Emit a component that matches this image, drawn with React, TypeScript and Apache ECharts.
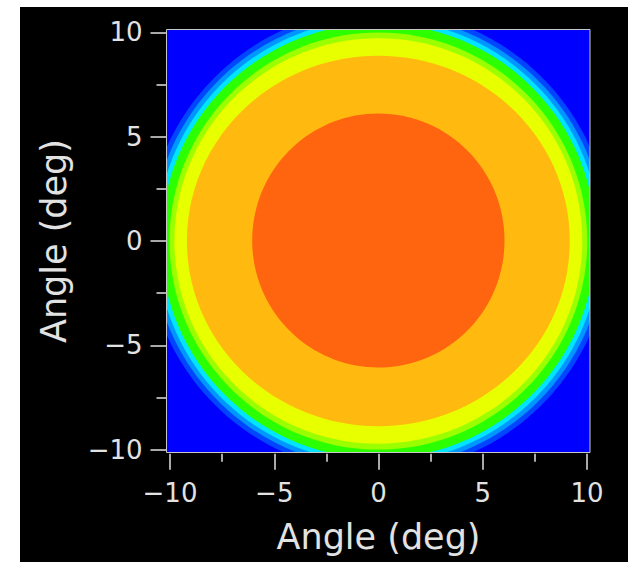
import React, { useEffect, useRef } from "react";
import * as echarts from "echarts";

// Tick values of both axes (deg)
const axisTicks = [-10, -5, 0, 5, 10];
const axisTitle = "Angle (deg)";

// Contour levels, outermost first (the field outside the last ring is the base level)
const baseColor = "#0000ff";
const ringColors = ["#0046ff", "#0096ff", "#00e4ff", "#2cff00", "#9cff00", "#e8ff00", "#ffb90f", "#ff640f"];
// Outer boundary of each level (deg)
const ringRx = [11.1, 10.86, 10.64, 10.42, 10.02, 9.78, 9.18, 6.05];
const ringRy = [11.1, 10.86, 10.64, 10.42, 10.0, 9.72, 8.88, 6.09];
const ringCx = [0, 0, 0, 0, 0, 0, 0, 0];
const ringCy = [0, 0, 0, 0, 0, 0, 0, 0.02];

const FONT = "'DejaVu Sans', 'Liberation Sans', sans-serif";
const fmt = (v: number) => (v < 0 ? "\u2212" + Math.abs(v) : String(v));

export default function App() {
  const ref = useRef<HTMLDivElement>(null);
  useEffect(() => {
    if (!ref.current) return;
    const chart = echarts.init(ref.current, null, { renderer: "svg" });
    const tickMin = axisTicks[0];
    const tickMax = axisTicks[axisTicks.length - 1];
    const step = axisTicks[1] - axisTicks[0];
    const ink = "#e2e2e2";
    const labelStyle = { color: ink, fontSize: 26, fontFamily: FONT };
    const titleStyle = { color: ink, fontSize: 35, fontFamily: FONT };
    const hiddenLine = { show: true, onZero: false, lineStyle: { color: "rgba(0,0,0,0)", width: 0 } };
    const hiddenAxis = { show: false, splitLine: { show: false } };
    chart.setOption({
      animation: false,
      backgroundColor: "transparent",
      grid: [
        { left: 166.7, top: 29.5, width: 423.3, height: 423, show: true, backgroundColor: baseColor, borderWidth: 0 },
        { left: 166.5, top: 32.3, width: 420, height: 417.5, show: false },
        { left: 170, top: 32.3, width: 417, height: 417.5, show: false },
      ],
      xAxis: [
        { type: "value", gridIndex: 0, min: -10.15, max: 10.15, ...hiddenAxis },
        { type: "value", gridIndex: 1, min: tickMin, max: tickMax, ...hiddenAxis },
        {
          type: "value",
          gridIndex: 2,
          min: tickMin,
          max: tickMax,
          interval: step,
          offset: 4,
          position: "bottom",
          name: axisTitle,
          nameLocation: "middle",
          nameGap: 66,
          nameTextStyle: titleStyle,
          axisLine: hiddenLine,
          axisTick: { show: true, length: 16, lineStyle: { color: ink, width: 1.5 } },
          minorTick: { show: true, splitNumber: 2, length: 8, lineStyle: { color: ink, width: 1.5 } },
          splitLine: { show: false },
          minorSplitLine: { show: false },
          axisLabel: { ...labelStyle, margin: 26, formatter: fmt },
        },
      ],
      yAxis: [
        { type: "value", gridIndex: 0, min: -10.14, max: 10.14, ...hiddenAxis },
        {
          type: "value",
          gridIndex: 1,
          min: tickMin,
          max: tickMax,
          interval: step,
          position: "left",
          name: axisTitle,
          nameLocation: "middle",
          nameGap: 95,
          nameRotate: 90,
          nameTextStyle: titleStyle,
          axisLine: hiddenLine,
          axisTick: { show: true, length: 16, lineStyle: { color: ink, width: 1.5 } },
          minorTick: { show: true, splitNumber: 2, length: 10, lineStyle: { color: ink, width: 1.5 } },
          splitLine: { show: false },
          minorSplitLine: { show: false },
          axisLabel: { ...labelStyle, margin: 24, formatter: fmt },
        },
        { type: "value", gridIndex: 2, min: tickMin, max: tickMax, ...hiddenAxis },
      ],
      series: [
        {
          type: "custom",
          coordinateSystem: "cartesian2d",
          xAxisIndex: 0,
          yAxisIndex: 0,
          silent: true,
          clip: true,
          data: ringRx.map((rx, i) => [ringCx[i], ringCy[i], rx, ringRy[i], i]),
          renderItem: (params: any, api: any) => {
            const c = api.coord([api.value(0), api.value(1)]);
            const s = api.size([api.value(2), api.value(3)]);
            const cs = params.coordSys;
            return {
              type: "ellipse",
              shape: { cx: c[0], cy: c[1], rx: s[0], ry: s[1] },
              style: { fill: ringColors[api.value(4)] },
              clipPath: { type: "rect", shape: { x: cs.x, y: cs.y, width: cs.width, height: cs.height } },
            };
          },
        },
      ],
      graphic: [
        {
          type: "rect",
          silent: true,
          z: 100,
          shape: { x: 166.5, y: 29.5, width: 423.5, height: 423 },
          style: { fill: "none", stroke: "#c8c8c8", lineWidth: 1 },
        },
      ],
    });
    return () => chart.dispose();
  }, []);
  return (
    <div style={{ position: "absolute", left: 0, top: 0, width: 628, height: 562, background: "#fff" }}>
      <div style={{ position: "absolute", left: 20, top: 7, right: 0, bottom: 0, background: "#000" }} />
      <div ref={ref} style={{ position: "absolute", left: 0, top: 0, width: 628, height: 562 }} />
    </div>
  );
}
